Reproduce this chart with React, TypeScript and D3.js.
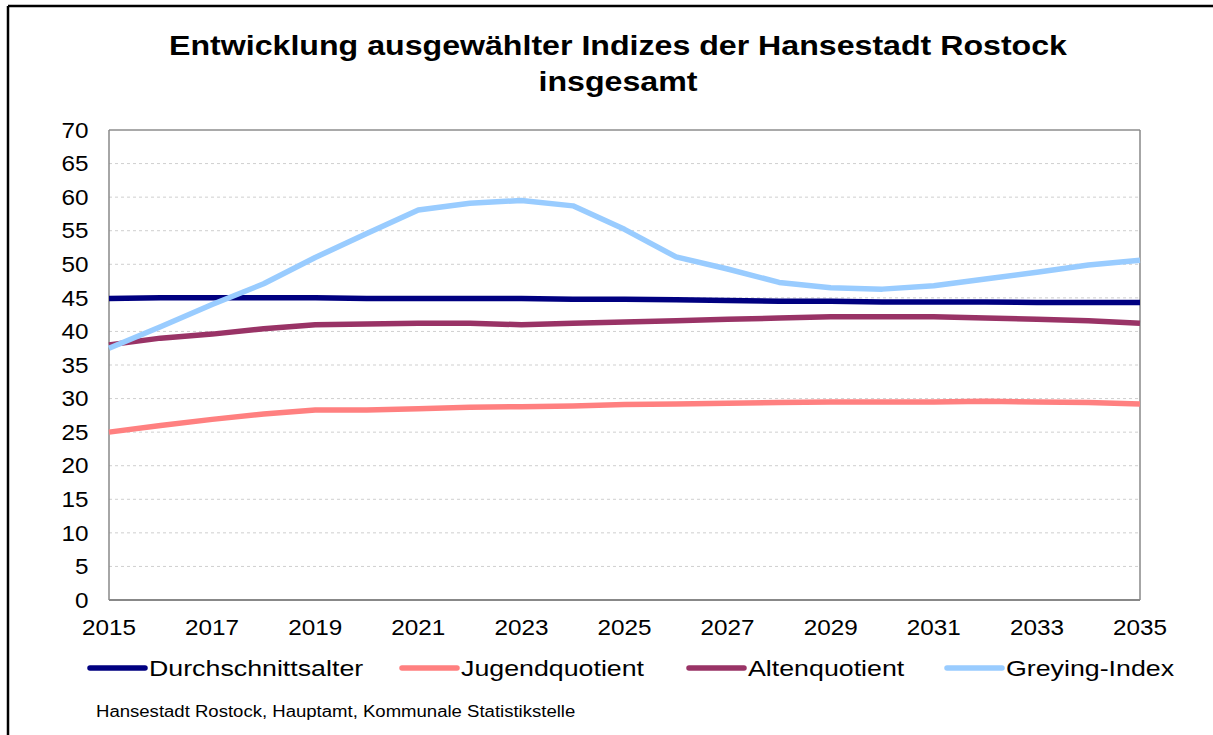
import React from "react";
import * as d3 from "d3";

const years = d3.range(2015, 2036);
const durchschnittsalter = [44.9, 45.0, 45.0, 45.0, 45.0, 44.9, 44.9, 44.9, 44.9, 44.8, 44.8, 44.7, 44.6, 44.5, 44.5, 44.4, 44.4, 44.4, 44.3, 44.3, 44.3];
const jugendquotient = [25.0, 26.0, 26.9, 27.7, 28.3, 28.3, 28.5, 28.7, 28.8, 28.9, 29.1, 29.2, 29.3, 29.4, 29.5, 29.5, 29.5, 29.6, 29.5, 29.4, 29.2];
const altenquotient = [38.0, 39.0, 39.6, 40.4, 41.0, 41.1, 41.2, 41.2, 41.0, 41.2, 41.4, 41.6, 41.8, 42.0, 42.2, 42.2, 42.2, 42.0, 41.8, 41.6, 41.2];
const greyingIndex = [37.5, 40.7, 44.0, 47.1, 51.0, 54.6, 58.1, 59.1, 59.5, 58.7, 55.2, 51.1, 49.3, 47.3, 46.5, 46.3, 46.8, 47.8, 48.8, 49.9, 50.6];

const seriesNames = ["Durchschnittsalter", "Jugendquotient", "Altenquotient", "Greying-Index"];
const seriesColors = ["#000080", "#FF8080", "#993366", "#99CCFF"];
const seriesValues = [durchschnittsalter, jugendquotient, altenquotient, greyingIndex];
const yTicks = d3.range(0, 71, 5);
const xTickYears = d3.range(2015, 2036, 2);

const titleLines = ["Entwicklung ausgewählter Indizes der Hansestadt Rostock", "insgesamt"];
const sourceText = "Hansestadt Rostock, Hauptamt, Kommunale Statistikstelle";

const W = 1213;
const H = 735;
const plot = { left: 109, right: 1140, top: 130, bottom: 600 };
const legendX = [90, 402, 689, 947];
const legendY = 668;

function SText({
  x,
  y,
  sx,
  children,
  ...rest
}: {
  x: number;
  y: number;
  sx: number;
  children: React.ReactNode;
  [k: string]: any;
}) {
  return (
    <text transform={`translate(${x},${y}) scale(${sx},1)`} x={0} y={0} {...rest}>
      {children}
    </text>
  );
}

export default function App() {
  const x = d3.scaleLinear().domain([2015, 2035]).range([plot.left, plot.right]);
  const y = d3.scaleLinear().domain([0, 70]).range([plot.bottom, plot.top]);
  const line = d3
    .line<number>()
    .x((_, i) => x(years[i]))
    .y((d) => y(d));
  const font = "'Liberation Sans', Arial, sans-serif";

  return (
    <svg
      width={W}
      height={H}
      style={{ position: "absolute", left: 0, top: 0, background: "#fff" }}
      fontFamily={font}
    >
      <rect x={0} y={0} width={W} height={H} fill="#fff" />
      {/* outer border */}
      <line x1={8} y1={6} x2={W} y2={6} stroke="#000" strokeWidth={2.5} />
      <line x1={8} y1={6} x2={8} y2={H} stroke="#000" strokeWidth={2.5} />

      {/* title */}
      {titleLines.map((t, i) => (
        <SText
          key={i}
          x={618}
          y={55 + i * 36}
          sx={1.148}
          textAnchor="middle"
          fontSize={28}
          fontWeight="bold"
          fill="#000"
        >
          {t}
        </SText>
      ))}

      {/* gridlines */}
      {yTicks
        .filter((v) => v > 0 && v < 70)
        .map((v) => (
          <line
            key={v}
            x1={plot.left}
            x2={plot.right}
            y1={y(v)}
            y2={y(v)}
            stroke="#cfcfcf"
            strokeWidth={1}
            strokeDasharray="3,3"
          />
        ))}

      {/* plot frame */}
      <line x1={plot.left} x2={plot.right} y1={plot.top} y2={plot.top} stroke="#555" strokeWidth={1} />
      <line x1={plot.right} x2={plot.right} y1={plot.top} y2={plot.bottom} stroke="#888" strokeWidth={1.5} />
      <line x1={plot.left} x2={plot.left} y1={plot.top} y2={plot.bottom} stroke="#888" strokeWidth={1.5} />
      <line x1={plot.left} x2={plot.right} y1={plot.bottom} y2={plot.bottom} stroke="#888" strokeWidth={2} />

      {/* y tick labels */}
      {yTicks.map((v) => (
        <SText key={v} x={88.5} y={y(v)} sx={1.13} dy="0.36em" textAnchor="end" fontSize={21.5} fill="#000">
          {v}
        </SText>
      ))}

      {/* x tick labels */}
      {xTickYears.map((yr) => (
        <SText key={yr} x={x(yr)} y={634.5} sx={1.13} textAnchor="middle" fontSize={21.5} fill="#000">
          {yr}
        </SText>
      ))}

      {/* series */}
      {seriesValues.map((vals, i) => (
        <path
          key={seriesNames[i]}
          d={line(vals) || ""}
          fill="none"
          stroke={seriesColors[i]}
          strokeWidth={5.5}
          strokeLinejoin="round"
        />
      ))}

      {/* legend */}
      {seriesNames.map((name, i) => (
        <g key={name}>
          <line
            x1={legendX[i]}
            x2={legendX[i] + 55}
            y1={legendY}
            y2={legendY}
            stroke={seriesColors[i]}
            strokeWidth={5.5}
            strokeLinecap="round"
          />
          <SText x={legendX[i] + 59} y={legendY} sx={1.19} dy="0.36em" fontSize={22.5} fill="#000">
            {name}
          </SText>
        </g>
      ))}

      {/* source */}
      <SText x={96} y={717} sx={1.16} fontSize={16} fill="#000">
        {sourceText}
      </SText>
    </svg>
  );
}
